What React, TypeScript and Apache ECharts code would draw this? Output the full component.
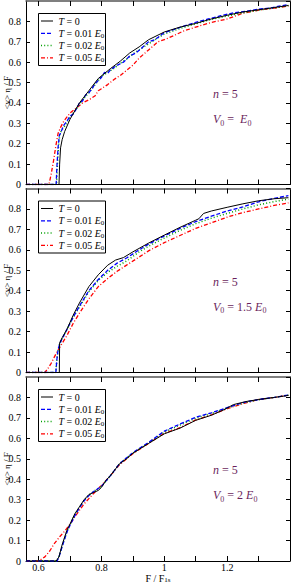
import React, { useEffect, useRef } from "react";
import * as echarts from "echarts";

// ---------- data ----------
const SERIES_NAMES = ["T = 0", "T = 0.01 E0", "T = 0.02 E0", "T = 0.05 E0"];
const SERIES_COLORS = ["#000000", "#0000ff", "#00a000", "#ff0000"];

const X_TICKS = [0.6, 0.7, 0.8, 0.9, 1.0, 1.1, 1.2, 1.3];
const X_LABELS = [0.6, 0.8, 1.0, 1.2];

// Panel 1: n = 5, V0 = E0
const p1T0 = [[0.56,0],[0.665,0],[0.667,0.1],[0.67,0.18],[0.675,0.22],[0.683,0.26],[0.7,0.32],[0.73,0.4],[0.76,0.46],[0.79,0.52],[0.83,0.57],[0.86,0.605],[0.89,0.645],[0.92,0.675],[0.95,0.71],[1.0,0.748],[1.05,0.772],[1.1,0.79],[1.15,0.812],[1.2,0.83],[1.25,0.846],[1.3,0.857],[1.35,0.868],[1.395,0.878]];
const p1T1 = [[0.56,0],[0.656,0],[0.658,0.08],[0.662,0.18],[0.666,0.24],[0.672,0.26],[0.68,0.29],[0.69,0.31],[0.7,0.335],[0.71,0.345],[0.72,0.37],[0.73,0.4],[0.74,0.41],[0.75,0.44],[0.76,0.45],[0.77,0.47],[0.78,0.495],[0.79,0.51],[0.8,0.525],[0.81,0.55],[0.82,0.545],[0.83,0.565],[0.85,0.585],[0.87,0.6],[0.89,0.63],[0.91,0.645],[0.93,0.672],[0.95,0.7],[0.97,0.71],[1.0,0.745],[1.03,0.76],[1.06,0.776],[1.1,0.795],[1.14,0.812],[1.18,0.828],[1.22,0.842],[1.26,0.85],[1.3,0.86],[1.34,0.866],[1.37,0.876],[1.395,0.882]];
const p1T2 = [[0.56,0],[0.657,0],[0.66,0.1],[0.664,0.2],[0.668,0.25],[0.675,0.27],[0.685,0.29],[0.7,0.33],[0.72,0.37],[0.74,0.415],[0.76,0.45],[0.78,0.49],[0.8,0.53],[0.82,0.55],[0.84,0.57],[0.86,0.595],[0.88,0.615],[0.9,0.64],[0.93,0.67],[0.96,0.7],[1.0,0.738],[1.05,0.765],[1.1,0.788],[1.15,0.81],[1.2,0.826],[1.25,0.842],[1.3,0.855],[1.35,0.866],[1.395,0.878]];
const p1T5 = [[0.56,0],[0.633,0],[0.64,0.05],[0.648,0.12],[0.655,0.19],[0.662,0.25],[0.67,0.28],[0.68,0.31],[0.69,0.33],[0.7,0.35],[0.72,0.375],[0.74,0.4],[0.76,0.415],[0.78,0.435],[0.79,0.46],[0.8,0.47],[0.82,0.49],[0.84,0.515],[0.86,0.535],[0.88,0.56],[0.9,0.585],[0.92,0.62],[0.95,0.66],[0.98,0.7],[1.0,0.71],[1.03,0.73],[1.06,0.752],[1.1,0.772],[1.15,0.795],[1.2,0.812],[1.25,0.84],[1.3,0.855],[1.35,0.865],[1.395,0.875]];

// Panel 2: n = 5, V0 = 1.5 E0
const p2T0 = [[0.56,0],[0.666,0],[0.667,0.145],[0.675,0.17],[0.69,0.21],[0.71,0.28],[0.73,0.34],[0.76,0.42],[0.79,0.478],[0.82,0.525],[0.845,0.55],[0.87,0.562],[0.9,0.59],[0.95,0.633],[1.0,0.672],[1.05,0.71],[1.1,0.745],[1.11,0.752],[1.125,0.778],[1.15,0.79],[1.2,0.808],[1.25,0.825],[1.3,0.84],[1.35,0.85],[1.395,0.855]];
const p2T1 = [[0.56,0],[0.655,0],[0.658,0.06],[0.662,0.11],[0.667,0.14],[0.675,0.165],[0.69,0.21],[0.71,0.27],[0.73,0.325],[0.76,0.4],[0.79,0.455],[0.82,0.5],[0.85,0.535],[0.88,0.56],[0.92,0.6],[0.95,0.628],[1.0,0.668],[1.05,0.705],[1.1,0.738],[1.15,0.765],[1.2,0.79],[1.25,0.81],[1.3,0.835],[1.35,0.852],[1.395,0.865]];
const p2T2 = [[0.56,0],[0.655,0],[0.658,0.06],[0.662,0.11],[0.667,0.14],[0.675,0.165],[0.69,0.21],[0.71,0.27],[0.73,0.32],[0.76,0.395],[0.79,0.45],[0.82,0.49],[0.85,0.52],[0.88,0.545],[0.92,0.59],[0.95,0.618],[1.0,0.658],[1.05,0.695],[1.1,0.728],[1.15,0.755],[1.2,0.778],[1.25,0.8],[1.3,0.82],[1.35,0.836],[1.395,0.848]];
const p2T5 = [[0.56,0],[0.62,0],[0.63,0.02],[0.64,0.045],[0.65,0.075],[0.66,0.105],[0.67,0.13],[0.69,0.18],[0.71,0.24],[0.73,0.29],[0.76,0.36],[0.79,0.42],[0.82,0.46],[0.85,0.495],[0.88,0.525],[0.92,0.565],[0.95,0.595],[1.0,0.635],[1.05,0.67],[1.1,0.705],[1.15,0.732],[1.2,0.76],[1.25,0.782],[1.3,0.8],[1.35,0.817],[1.395,0.83]];

// Panel 3: n = 5, V0 = 2 E0
const p3T0 = [[0.56,0],[0.656,0],[0.665,0.02],[0.675,0.08],[0.69,0.15],[0.7,0.18],[0.715,0.23],[0.73,0.265],[0.745,0.3],[0.76,0.325],[0.775,0.335],[0.79,0.345],[0.8,0.36],[0.815,0.395],[0.83,0.42],[0.857,0.475],[0.88,0.5],[0.9,0.527],[0.95,0.575],[1.0,0.622],[1.05,0.65],[1.1,0.688],[1.15,0.713],[1.19,0.74],[1.22,0.765],[1.26,0.78],[1.3,0.79],[1.35,0.8],[1.395,0.81]];
const p3T1 = [[0.56,0],[0.659,0],[0.665,0.02],[0.675,0.07],[0.69,0.14],[0.7,0.175],[0.715,0.22],[0.73,0.26],[0.745,0.295],[0.76,0.32],[0.78,0.345],[0.8,0.365],[0.83,0.42],[0.857,0.475],[0.9,0.53],[0.95,0.58],[1.0,0.635],[1.05,0.67],[1.1,0.703],[1.15,0.725],[1.2,0.75],[1.25,0.775],[1.3,0.79],[1.35,0.8],[1.395,0.812]];
const p3T2 = [[0.56,0],[0.657,0],[0.664,0.02],[0.675,0.075],[0.69,0.145],[0.7,0.178],[0.715,0.225],[0.73,0.262],[0.745,0.297],[0.76,0.322],[0.78,0.345],[0.8,0.365],[0.83,0.42],[0.857,0.475],[0.9,0.528],[0.95,0.578],[1.0,0.63],[1.05,0.665],[1.1,0.698],[1.15,0.722],[1.2,0.748],[1.25,0.772],[1.3,0.789],[1.35,0.8],[1.395,0.811]];
const p3T5 = [[0.56,0],[0.6,0],[0.62,0.02],[0.636,0.05],[0.65,0.085],[0.668,0.12],[0.685,0.15],[0.7,0.18],[0.715,0.215],[0.731,0.25],[0.745,0.28],[0.76,0.305],[0.775,0.33],[0.79,0.355],[0.8,0.37],[0.83,0.42],[0.857,0.47],[0.9,0.525],[0.95,0.575],[1.0,0.625],[1.05,0.652],[1.1,0.69],[1.15,0.715],[1.2,0.745],[1.25,0.77],[1.3,0.79],[1.35,0.8],[1.395,0.81]];

const PANELS = [
  [p1T0, p1T1, p1T2, p1T5],
  [p2T0, p2T1, p2T2, p2T5],
  [p3T0, p3T1, p3T2, p3T5],
];
const PANEL_V0 = ["{i|V}{s|0} =  {i|E}{s|0}", "{i|V}{s|0} = 1.5 {i|E}{s|0}", "{i|V}{s|0} = 2 {i|E}{s|0}"];
const LEGEND_TEXT = [
  "{i|T} = 0",
  "{i|T} = 0.01 {i|E}{s|0}",
  "{i|T} = 0.02 {i|E}{s|0}",
  "{i|T} = 0.05 {i|E}{s|0}",
];

// ---------- layout ----------
const FONT = '"Liberation Serif", "DejaVu Serif", serif';
const GRIDS = [
  { left: 26, top: 1, width: 264, height: 183.5 },
  { left: 26, top: 188.5, width: 264, height: 184 },
  { left: 26, top: 377, width: 264, height: 184 },
];
const LINE_DASH: any[] = [null, [4, 2], [1, 2.2], [4, 2, 1, 2]];
const LINE_TYPES: any[] = ["solid", [4, 2], [1, 2.2], [4, 2, 1, 2]];
const LINE_WIDTHS = [1, 1.3, 1.5, 1.3];

export default function App() {
  const ref = useRef<HTMLDivElement>(null);
  useEffect(() => {
    document.body.style.margin = "0";
    const chart = echarts.init(ref.current!, null, { renderer: "svg" });
    const xAxes: any[] = [];
    const yAxes: any[] = [];
    const series: any[] = [];
    const graphics: any[] = [];
    const legendRich = {
      i: { fontStyle: "italic", fontFamily: FONT, fontSize: 10, lineHeight: 12, fill: "#000" },
      s: { fontFamily: FONT, fontSize: 7, verticalAlign: "bottom", lineHeight: 12, fill: "#000" },
    };
    GRIDS.forEach((g, k) => {
      const last = k === GRIDS.length - 1;
      xAxes.push({
        type: "value", gridIndex: k, min: 0.56, max: 1.4, position: "bottom",
        axisLine: { show: true, onZero: false, lineStyle: { color: "#000", width: 1 } },
        axisTick: { show: true, inside: true, length: 5, customValues: X_TICKS, lineStyle: { color: "#000" } },
        axisLabel: {
          show: last, customValues: X_LABELS, margin: 2, color: "#000", fontFamily: FONT, fontSize: 10, lineHeight: 9,
          formatter: (v: number) => String(Math.round(v * 10) / 10),
        },
        splitLine: { show: false },
        name: last ? "F / F{s|1s}" : "",
        nameLocation: "middle", nameGap: 12.5, nameMoveOverlap: false,
        nameTextStyle: {
          color: "#000", fontFamily: FONT, fontSize: 10, lineHeight: 10,
          rich: { s: { fontFamily: FONT, fontSize: 7, verticalAlign: "bottom", lineHeight: 10 } },
        },
      });
      xAxes.push({
        type: "value", gridIndex: k, min: 0.56, max: 1.4, position: "top",
        axisLine: { show: true, onZero: false, lineStyle: { color: "#555", width: 1.5 } },
        axisTick: { show: true, inside: true, length: 5, customValues: X_TICKS, lineStyle: { color: "#000" } },
        axisLabel: { show: false }, splitLine: { show: false },
      });
      yAxes.push({
        type: "value", gridIndex: k, min: 0, max: 0.9, interval: 0.1, position: "left",
        axisLine: { show: true, onZero: false, lineStyle: { color: "#000", width: 1 } },
        axisTick: { show: true, inside: true, length: 4, lineStyle: { color: "#000" } },
        axisLabel: {
          margin: 5, color: "#000", fontFamily: FONT, fontSize: 10, showMaxLabel: false,
          formatter: (v: number) => (Math.abs(v) < 1e-9 ? "0" : v.toFixed(1)),
        },
        splitLine: { show: false },
        name: "<v> \u03b7 / F", nameLocation: "middle", nameGap: 15, nameRotate: 90, nameMoveOverlap: false,
        nameTextStyle: { color: "#000", fontFamily: FONT, fontSize: 9 },
      });
      yAxes.push({
        type: "value", gridIndex: k, min: 0, max: 0.9, interval: 0.1, position: "right",
        axisLine: { show: true, onZero: false, lineStyle: { color: "#000", width: 1 } },
        axisTick: { show: true, inside: true, length: 4, lineStyle: { color: "#000" } },
        axisLabel: { show: false }, splitLine: { show: false },
      });
      PANELS[k].forEach((data, j) => {
        series.push({
          type: "line", name: SERIES_NAMES[j], xAxisIndex: 2 * k, yAxisIndex: 2 * k,
          data, showSymbol: false, symbol: "none", clip: true, z: 10 - j,
          lineStyle: { color: SERIES_COLORS[j], width: LINE_WIDTHS[j], type: LINE_TYPES[j] },
          itemStyle: { color: SERIES_COLORS[j] },
        });
      });
      // legend box as a positioned group
      const children: any[] = [
        {
          type: "rect", z: 100,
          shape: { x: 0.5, y: 0.5, width: 67, height: 52 },
          style: { fill: "#fff", stroke: "#000", lineWidth: 1 },
        },
      ];
      SERIES_NAMES.forEach((_, j) => {
        const ry = 8 + j * 12.3;
        children.push({
          type: "line", z: 101,
          shape: { x1: 3, y1: ry, x2: 15, y2: ry },
          style: { stroke: SERIES_COLORS[j], lineWidth: LINE_WIDTHS[j], lineDash: LINE_DASH[j] },
        });
        children.push({
          type: "text", z: 101, x: 20.5, y: ry,
          style: {
            text: LEGEND_TEXT[j], rich: legendRich, fill: "#000",
            font: `10px ${FONT}`, lineHeight: 12, verticalAlign: "middle", align: "left",
          },
        });
      });
      graphics.push({ type: "group", left: 38, top: g.top + 12, children });
      const color = "#6b1f5c";
      const rich = {
        i: { fontStyle: "italic", fontFamily: FONT, fontSize: 12, fill: color },
        s: { fontFamily: FONT, fontSize: 8, fill: color, verticalAlign: "bottom", lineHeight: 16 },
      };
      graphics.push({
        type: "text", left: 213, top: g.top + 87,
        style: { text: "{i|n} = 5", rich, fill: color, font: `12px ${FONT}` },
      });
      graphics.push({
        type: "text", left: 213, top: g.top + 110,
        style: { text: PANEL_V0[k], rich, fill: color, font: `12px ${FONT}`, lineHeight: 16 },
      });
    });
    chart.setOption({
      animation: false,
      backgroundColor: "#fff",
      grid: GRIDS.map((g) => ({ ...g, containLabel: false, outerBoundsMode: "none" })),
      xAxis: xAxes,
      yAxis: yAxes,
      series,
      graphic: graphics,
    });
    return () => chart.dispose();
  }, []);
  return <div ref={ref} style={{ width: 291, height: 584 }} />;
}
